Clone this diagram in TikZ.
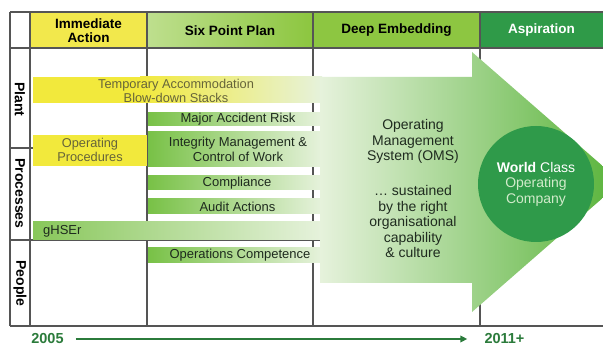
\documentclass[tikz,border=0pt]{standalone}
\usepackage{fontspec}
\setmainfont{Liberation Sans}
\usetikzlibrary{arrows.meta}

\definecolor{gridGrey}{HTML}{555555}
\definecolor{hdrYellow}{HTML}{F2E84C}
\definecolor{sixLeft}{HTML}{BEDF8E}
\definecolor{sixRight}{HTML}{8CC63F}
\definecolor{deepGreen}{HTML}{8DC641}
\definecolor{aspGreen}{HTML}{2F9A48}
\definecolor{barYellow}{HTML}{F2E93C}
\definecolor{yelFade}{HTML}{EBF0BC}
\definecolor{barGreen}{HTML}{78C146}
\definecolor{midGreen}{HTML}{A6D584}
\definecolor{hseGreen}{HTML}{88C75A}
\definecolor{paleGreen}{HTML}{E6F2DC}
\definecolor{arrowGreen}{HTML}{58B339}
\definecolor{circGreen}{HTML}{2F9A4A}
\definecolor{circInk}{HTML}{D2EBCB}
\definecolor{barInk}{HTML}{1E2A1E}
\definecolor{yelInk}{HTML}{66643A}
\definecolor{omsInk}{HTML}{1F2B1F}
\definecolor{lineGreen}{HTML}{2B7B3B}

\begin{document}
\begin{tikzpicture}[x=1pt,y=-1pt,
  gridline/.style={draw=gridGrey, line width=1.1pt},
  hdrtext/.style={font=\fontsize{13.5}{14}\selectfont\bfseries, inner sep=0pt, align=center, text=black},
  rowtext/.style={font=\fontsize{14}{14}\selectfont\bfseries, rotate=-90, inner sep=0pt, text=black},
  bartext/.style={font=\fontsize{13}{15}\selectfont, inner sep=0pt, align=center, text=barInk},
  yeltext/.style={font=\fontsize{12.8}{14}\selectfont, inner sep=0pt, align=center, text=yelInk},
  omstext/.style={font=\fontsize{14}{15.5}\selectfont, inner sep=0pt, align=center, text=omsInk},
  yeartext/.style={font=\fontsize{14.5}{15}\selectfont\bfseries, text=lineGreen, inner sep=0pt},
  greenbar/.style={left color=barGreen, middle color=midGreen, right color=paleGreen},
]
\useasboundingbox (0,0) rectangle (603,347);
\clip (0,0) rectangle (603,347);
\fill[white] (0,0) rectangle (603,347);

% header cells
\fill[hdrYellow] (30,12) rectangle (147,48);
\shade[left color=sixLeft, right color=sixRight] (147,12) rectangle (313,48);
\fill[deepGreen] (313,12) rectangle (480,48);
\fill[aspGreen] (480,12) rectangle (603,48);

% table rules
\draw[gridline] (10,12) -- (603,12);
\draw[gridline] (10,48) -- (603,48);
\draw[gridline] (10,326) -- (603,326);
\draw[gridline] (10,12) -- (10,326);
\foreach \x in {30,147,313,480} \draw[gridline] (\x,12) -- (\x,326);
\draw[gridline] (10,148) -- (33,148);
\draw[gridline] (10,240) -- (320,240);

% bands feeding the arrow
\fill[barYellow] (33,77) rectangle (140,103);
\shade[left color=barYellow, middle color=yelFade, right color=paleGreen] (140,77) rectangle (322,103);
\fill[barYellow] (33,135) rectangle (147,166);
\shade[greenbar] (148,113) rectangle (322,126);
\shade[greenbar] (148,132) rectangle (322,167);
\shade[greenbar] (148,176) rectangle (322,190);
\shade[greenbar] (148,199) rectangle (322,214);
\shade[left color=hseGreen, middle color=midGreen, right color=paleGreen] (33,222) rectangle (322,239.5);
\shade[greenbar] (148,248) rectangle (322,263);

% the big arrow
\shade[left color=paleGreen, right color=arrowGreen]
  (320,77) -- (472,77) -- (472,52) -- (621,182) -- (472,312) -- (472,283) -- (320,283) -- cycle;

% header labels
\node[hdrtext] (hImm) at (88.5,30.5) {Immediate\\Action};
\node[hdrtext] (hSix) at (230,30.5) {Six Point Plan};
\node[hdrtext] (hDeep) at (396.5,30.5) {Deep Embedding};
\node[hdrtext, text=white] (hAsp) at (541.5,30.5) {Aspiration};

% row labels
\node[rowtext] (rPlant) at (20,99.5) {Plant};
\node[rowtext] (rProc) at (20,193.5) {Processes};
\node[rowtext] (rPeople) at (20,283.5) {People};

% band labels
\node[yeltext] (tTemp) at (176,91) {Temporary Accommodation\\Blow-down Stacks};
\node[yeltext] (tOper) at (90,150) {Operating\\Procedures};
\node[bartext] (tMar) at (238,119.5) {Major Accident Risk};
\node[bartext] (tInt) at (238,149.5) {Integrity Management \&\\Control of Work};
\node[bartext] (tComp) at (237,183) {Compliance};
\node[bartext] (tAudit) at (237.5,206.5) {Audit Actions};
\node[bartext, anchor=west] (tHse) at (43,231.5) {gHSEr};
\node[bartext] (tOps) at (240,255.5) {Operations Competence};

% arrow body text
\node[omstext] (tOms) at (413,141.5) {Operating\\Management\\System (OMS)};
\node[omstext] (tSus) at (413,221.5) {\dots\ sustained\\by the right\\organisational\\capability\\\& culture};

% aspiration
\node[circle, fill=circGreen, minimum size=116pt, inner sep=0pt, align=center,
      font=\fontsize{14}{15.5}\selectfont, text=circInk] (wcoc) at (536,184)
  {\textcolor{white}{\bfseries World} \textcolor{white}{Class}\\Operating\\Company};

% timeline
\node[yeartext] (y2005) at (47.5,339) {2005};
\node[yeartext] (y2011) at (504.5,339) {2011+};
\draw[draw=lineGreen, line width=2pt, -{Triangle[length=7pt,width=6.5pt]},
      shorten <=12pt, shorten >=17pt] (y2005) -- (y2011);
\end{tikzpicture}
\end{document}
